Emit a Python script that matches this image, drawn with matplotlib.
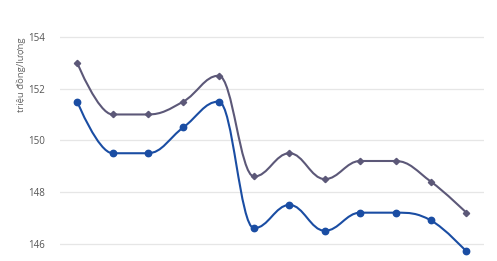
import numpy as np
import matplotlib
matplotlib.use("Agg")
import matplotlib.pyplot as plt
from matplotlib.path import Path
from matplotlib.patches import PathPatch

plt.rcParams['font.family'] = ['Open Sans', 'DejaVu Sans']

# Data
days = list(range(12))
sell_prices = [153.0, 151.0, 151.0, 151.5, 152.5, 148.6, 149.5, 148.5, 149.2, 149.2, 148.4, 147.2]
buy_prices = [151.5, 149.5, 149.5, 150.5, 151.5, 146.6, 147.5, 146.5, 147.2, 147.2, 146.9, 145.7]
y_ticks = [146, 148, 150, 152, 154]
y_label = "triệu đồng/lượng"

W, H = 497, 261
fig = plt.figure(figsize=(W / 100, H / 100), dpi=100)
left_px, right_px = 59.5, 484
ax = fig.add_axes([left_px / W, 0, (right_px - left_px) / W, 1])

ax.set_xlim(-0.5, 11.5)
ax.set_ylim(145.33, 155.43)


def spline_path(xs, ys, smoothing=1.5):
    # Highcharts-style spline control points
    n = len(xs)
    denom = smoothing + 1
    lefts = [(xs[0], ys[0])] * n
    rights = [(xs[0], ys[0])] * n
    for i in range(n):
        x, y = xs[i], ys[i]
        if i == 0 or i == n - 1:
            lefts[i] = (x, y)
            rights[i] = (x, y)
            continue
        lx, ly = xs[i - 1], ys[i - 1]
        nx, ny = xs[i + 1], ys[i + 1]
        lcx = (smoothing * x + lx) / denom
        lcy = (smoothing * y + ly) / denom
        rcx = (smoothing * x + nx) / denom
        rcy = (smoothing * y + ny) / denom
        if rcx != lcx:
            corr = ((rcy - lcy) * (rcx - x)) / (rcx - lcx) + y - rcy
            lcy += corr
            rcy += corr
            if lcy > ly and lcy > y:
                lcy = max(ly, y)
                rcy = 2 * y - lcy
            elif lcy < ly and lcy < y:
                lcy = min(ly, y)
                rcy = 2 * y - lcy
            if rcy > ny and rcy > y:
                rcy = max(ny, y)
                lcy = 2 * y - rcy
            elif rcy < ny and rcy < y:
                rcy = min(ny, y)
                lcy = 2 * y - rcy
        lefts[i] = (lcx, lcy)
        rights[i] = (rcx, rcy)
    verts = [(xs[0], ys[0])]
    codes = [Path.MOVETO]
    for i in range(1, n):
        verts += [rights[i - 1], lefts[i], (xs[i], ys[i])]
        codes += [Path.CURVE4] * 3
    return Path(verts, codes)


for yt in y_ticks:
    ax.axhline(yt, color='#e6e6e6', lw=0.9, zorder=0)

sell_color = '#5c5878'
buy_color = '#1a4da3'

ax.add_patch(PathPatch(spline_path(days, sell_prices), fill=False, edgecolor=sell_color, lw=1.5, zorder=2))
ax.add_patch(PathPatch(spline_path(days, buy_prices), fill=False, edgecolor=buy_color, lw=1.5, zorder=2))
ax.plot(days, sell_prices, linestyle='none', marker='D', ms=3.2, color=sell_color, zorder=3)
ax.plot(days, buy_prices, linestyle='none', marker='o', ms=4.6, color=buy_color, zorder=3)

ax.set_yticks(y_ticks)
ax.set_yticklabels([str(t) for t in y_ticks], fontsize=7, color='#555555')
ax.tick_params(axis='y', length=0, pad=10.5)
ax.set_xticks([])
for s in ax.spines.values():
    s.set_visible(False)
ax.patch.set_alpha(0)

fig.text(21 / W, 1 - 75 / H, y_label, rotation=90, ha='center', va='center',
         fontsize=6.8, color='#666666')

fig.savefig('out.png', dpi=100)
